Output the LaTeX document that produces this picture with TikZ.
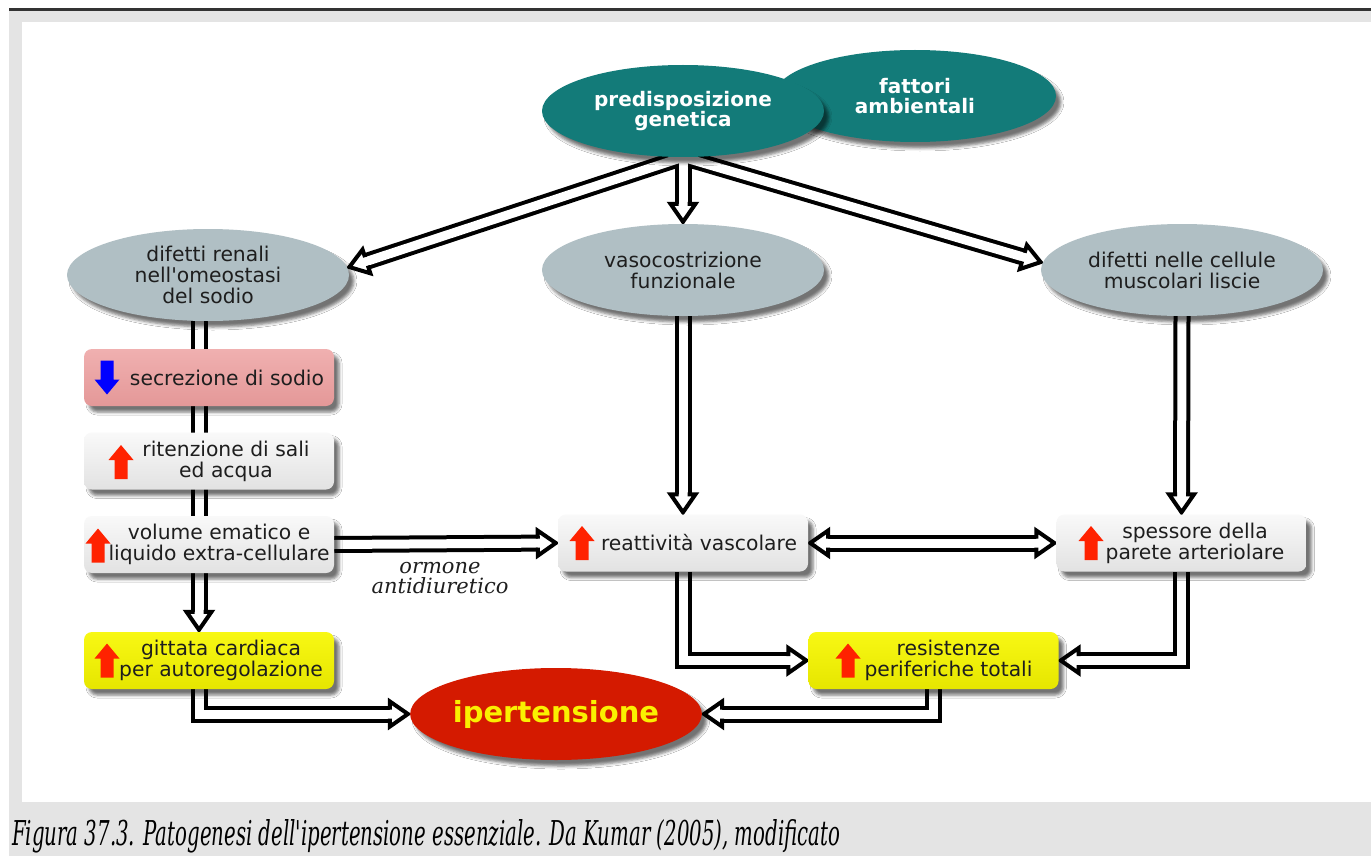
\documentclass[tikz,border=0pt]{standalone}
\usepackage{fontspec}
\usepackage{graphicx}
\setmainfont{DejaVu Sans}[Ligatures=TeXOff]
\newfontfamily\serifit{DejaVu Serif}[Ligatures=TeXOff]
\usetikzlibrary{shapes.geometric, shadows.blur, decorations.markings, calc}
\pgfdeclarelayer{back}
\pgfsetlayers{back,main}

\definecolor{cteal}{RGB}{19,123,121}
\definecolor{cslate}{RGB}{176,191,196}
\definecolor{cred}{RGB}{212,26,0}
\definecolor{cyel}{RGB}{250,240,0}
\definecolor{cpinkA}{RGB}{240,176,176}
\definecolor{cpinkB}{RGB}{228,152,152}
\definecolor{cgreyA}{RGB}{249,249,249}
\definecolor{cgreyB}{RGB}{226,226,226}
\definecolor{cyelA}{RGB}{248,248,20}
\definecolor{cyelB}{RGB}{230,230,0}
\definecolor{cpage}{RGB}{228,228,228}
\definecolor{cink}{RGB}{30,30,30}
\definecolor{ciconred}{RGB}{255,34,0}
\definecolor{ciconblue}{RGB}{0,0,255}

\begin{document}
\begin{tikzpicture}[x=1pt, y=-1pt,
  softshadow/.style={blur shadow={shadow xshift=5pt, shadow yshift=-6pt, shadow blur radius=3pt, shadow opacity=55}},
  ell/.style={ellipse, minimum width=282pt, minimum height=92pt, inner sep=0pt, align=center, softshadow},
  plain/.style={font=\fontsize{20.3}{21}\selectfont, text=cink},
  strong/.style={font=\fontsize{20}{20.5}\selectfont\bfseries, text=white},
  box/.style={rectangle, rounded corners=8pt, minimum width=250pt, minimum height=57pt, inner sep=0pt, softshadow},
  greybox/.style={box, top color=cgreyA, bottom color=cgreyB},
  pinkbox/.style={box, top color=cpinkA, bottom color=cpinkB},
  yelbox/.style={box, top color=cyelA, bottom color=cyelB},
  boxtext/.style={plain, align=center, inner sep=0pt},
  shaft/.style={draw=black, line width=4pt, double=white, double distance=9pt, line join=miter, shorten >=17pt},
  outerline/.style={draw=black, line width=17pt, shorten >=17pt},
  innerline/.style={draw=white, line width=9pt, shorten >=17pt},
  headline/.style={draw=black, fill=white, line width=4pt, line join=miter},
  tipend/.style={decoration={markings, mark=at position 1 with {\filldraw[headline] (-20,4.5) -- (-20,12.5) -- (-2,0) -- (-20,-12.5) -- (-20,-4.5);}}, decorate},
  upicon/.pic={\fill[ciconred] (0,-17) -- (12.5,-2) -- (6.5,-2) -- (6.5,17) -- (-6.5,17) -- (-6.5,-2) -- (-12.5,-2) -- cycle;},
  downicon/.pic={\fill[ciconblue] (0,17) -- (12.5,2) -- (6.5,2) -- (6.5,-17) -- (-6.5,-17) -- (-6.5,2) -- (-12.5,2) -- cycle;}
]
\useasboundingbox (0,0) rectangle (1371,856);

% causes
\node[ell, fill=cteal, strong] (env) at (915,96) {fattori\\ambientali};
\node[ell, fill=cteal, strong] (gen) at (683,111) {predisposizione\\genetica};

% primary defects
\node[ell, fill=cslate, plain] (renal) at (208,275) {difetti renali\\nell'omeostasi\\del sodio};
\node[ell, fill=cslate, plain] (vaso) at (683,270) {vasocostrizione\\funzionale};
\node[ell, fill=cslate, plain] (cells) at (1182,270) {difetti nelle cellule\\muscolari liscie};

% renal chain
\node[pinkbox] (sec) at (209,377.5) {};
\node[greybox] (rit) at (209,461) {};
\node[greybox] (vol) at (209,544.5) {};
\node[yelbox] (git) at (209,660.5) {};

% vascular chain
\node[greybox] (reat) at (683,543) {};
\node[greybox] (spes) at (1181.5,543) {};
\node[yelbox] (res) at (933.5,660.5) {};

% outcome
\node[ell, fill=cred, font=\fontsize{29}{30}\selectfont\bfseries, text=cyel] (ipert) at (556,714) {ipertensione};

% box labels
\node[boxtext] (secT) at ($(sec.center)+(18,0)$) {secrezione di sodio};
\node[boxtext] (ritT) at ($(rit.center)+(17,0)$) {ritenzione di sali\\ed acqua};
\node[boxtext] (volT) at ($(vol.center)+(10,0)$) {volume ematico e\\liquido extra-cellulare};
\node[boxtext] (gitT) at ($(git.center)+(12,0)$) {gittata cardiaca\\per autoregolazione};
\node[boxtext] (reatT) at ($(reat.center)+(16,0)$) {reattività vascolare};
\node[boxtext] (spesT) at ($(spes.center)+(13.5,0)$) {spessore della\\parete arteriolare};
\node[boxtext] (resT) at ($(res.center)+(15,0)$) {resistenze\\periferiche totali};

% up / down markers
\pic at ($(sec.center)+(-102,0)$) {downicon};
\pic at ($(rit.center)+(-88,1)$) {upicon};
\pic at ($(vol.center)+(-111,1)$) {upicon};
\pic at ($(git.center)+(-102,0)$) {upicon};
\pic at ($(reat.center)+(-101,0)$) {upicon};
\pic at ($(spes.center)+(-90.5,0)$) {upicon};
\pic at ($(res.center)+(-85.5,0)$) {upicon};

% connector label
\node[font=\serifit\itshape\fontsize{21}{20.5}\selectfont, text=cink, align=center, inner sep=0pt] (adh) at (440,578) {ormone\\antidiuretico};

% caption
\node[anchor=west, inner sep=0pt, text=black] (cap) at (12,836) {\resizebox{828pt}{26pt}{\serifit\itshape Figura 37.3. Patogenesi dell'ipertensione essenziale. Da Kumar (2005), modificato}};

\coordinate (colL) at (199,0);

\begin{pgfonlayer}{back}
  % page and panel
  \fill[cpage] (9,11) rectangle (1371,856);
  \fill[white] (22,22) rectangle (1371,802);
  \fill[black!80] (9,8) rectangle (1371,11.5);

  % fan-out from the genetic predisposition (merged shafts)
  \foreach \t in {vaso.north, renal.3, cells.177}
    \draw[outerline] (gen.south) -- (\t);
  \foreach \t in {vaso.north, renal.3, cells.177}
    \draw[innerline] (gen.south) -- (\t);
  \foreach \t in {vaso.north, renal.3, cells.177}
    \path[tipend] (gen.south) -- (\t);

  % renal column
  \draw[shaft] (renal.south -| colL) -- (git.north -| colL);
  \path[tipend] (renal.south -| colL) -- (git.north -| colL);
  \draw[shaft] (git.south -| colL) |- (ipert.west);
  \path[tipend] (git.south -| colL) |- (ipert.west);

  % volume to vascular reactivity
  \draw[shaft] (vol.east) -- (reat.west);
  \path[tipend] (vol.east) -- (reat.west);

  % vascular column
  \draw[shaft] (vaso.south) -- (reat.north);
  \path[tipend] (vaso.south) -- (reat.north);
  \draw[shaft] (cells.south) -- (spes.north);
  \path[tipend] (cells.south) -- (spes.north);
  \draw[shaft, shorten <=17pt] (reat.east) -- (spes.west);
  \path[tipend] (reat.east) -- (spes.west);
  \path[tipend] (spes.west) -- (reat.east);

  % towards peripheral resistance and hypertension
  \draw[shaft] (reat.south) |- (res.west);
  \path[tipend] (reat.south) |- (res.west);
  \draw[shaft] (spes.south) |- (res.east);
  \path[tipend] (spes.south) |- (res.east);
  \draw[shaft] (res.south) |- (ipert.east);
  \path[tipend] (res.south) |- (ipert.east);
\end{pgfonlayer}
\end{tikzpicture}
\end{document}
